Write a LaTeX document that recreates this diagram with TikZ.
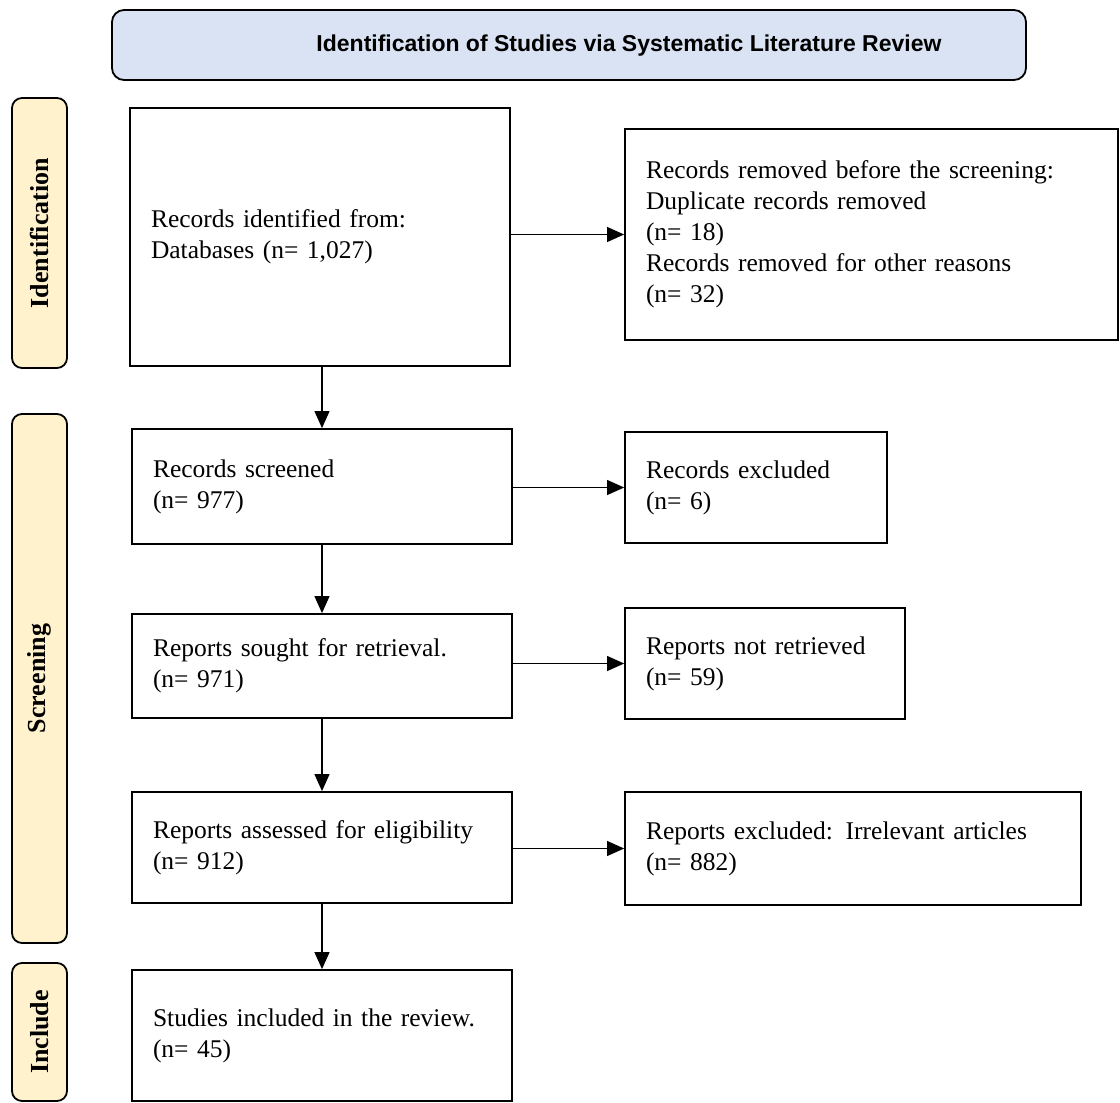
\documentclass[tikz,border=0pt]{standalone}
\usepackage{fontspec}
\setmainfont{Liberation Serif}
\newfontfamily\headfont{Liberation Sans}
\usepackage{xcolor}
\definecolor{headblue}{RGB}{218,227,243}
\definecolor{sidecream}{RGB}{255,242,204}
\usetikzlibrary{positioning,arrows.meta,calc}

\tikzset{
  flowbox/.style={draw, line width=1.8pt, align=left, inner xsep=21pt, inner ysep=0pt,
    font=\fontsize{25.5}{31}\selectfont},
  sidebox/.style={draw, line width=1.8pt, rounded corners=10pt, fill=sidecream,
    rotate=90, minimum height=55pt, inner sep=0pt, font=\fontsize{26}{28}\selectfont\bfseries},
  headbox/.style={draw, line width=1.8pt, rounded corners=12pt, fill=headblue,
    minimum width=914pt, minimum height=70pt},
  arr/.style={-{Triangle[length=17pt,width=15pt]}, line width=1.1pt}
}

\begin{document}
\begin{tikzpicture}[x=1pt,y=-1pt]
    \useasboundingbox (0,0) rectangle (1120,1103);

    % Title bar
    \node[headbox] (hdr) at (569,45) {};
    \node[font=\headfont\fontsize{23}{26}\selectfont\bfseries] (hdrtext) at (629,46)
        {Identification of Studies via Systematic Literature Review};

    % Phase labels
    \node[sidebox, minimum width=270pt] (phaseid) at (39.5,233) {Identification};
    \node[sidebox, minimum width=529pt] (phasescr) at (39.5,678.5) {Screening};
    \node[sidebox, minimum width=138pt] (phaseinc) at (39.5,1032) {Include};

    % Main column
    \node[flowbox, text width=338pt, minimum height=258pt] (ident) at (320,237)
        {Records identified from:\\Databases (n= 1,027)};
    \node[flowbox, text width=338pt, minimum height=115pt] (screen) at (322,486.5)
        {Records screened\\(n= 977)};
    \node[flowbox, text width=338pt, minimum height=104pt] (sought) at (322,666)
        {Reports sought for retrieval.\\(n= 971)};
    \node[flowbox, text width=338pt, minimum height=111pt] (assess) at (322,847.5)
        {Reports assessed for eligibility\\(n= 912)};
    \node[flowbox, text width=338pt, minimum height=131pt] (incl) at (322,1035.5)
        {Studies included in the review.\\(n= 45)};

    % Exclusions
    \node[flowbox, text width=451pt, minimum height=211pt] (removed) at (871.5,234.5)
        {Records removed before the screening:\\Duplicate records removed\\(n= 18)\\Records removed for other reasons\\(n= 32)};
    \node[flowbox, text width=220pt, minimum height=111pt] (excl) at (756,487.5)
        {Records excluded\\(n= 6)};
    \node[flowbox, text width=238pt, minimum height=111pt] (notret) at (765,663.5)
        {Reports not retrieved\\(n= 59)};
    \node[flowbox, text width=414pt, minimum height=113pt] (irrel) at (853,848.5)
        {Reports excluded: Irrelevant articles\\(n= 882)};

    % Connectors
    \draw[arr] (ident.south -| screen.north) -- (screen.north);
    \draw[arr] (screen.south) -- (sought.north);
    \draw[arr] (sought.south) -- (assess.north);
    \draw[arr] (assess.south) -- (incl.north);
    \draw[arr] (ident.east |- removed.west) -- (removed.west);
    \draw[arr] (screen.east |- excl.west) -- (excl.west);
    \draw[arr] (sought.east |- notret.west) -- (notret.west);
    \draw[arr] (assess.east |- irrel.west) -- (irrel.west);
\end{tikzpicture}
\end{document}
